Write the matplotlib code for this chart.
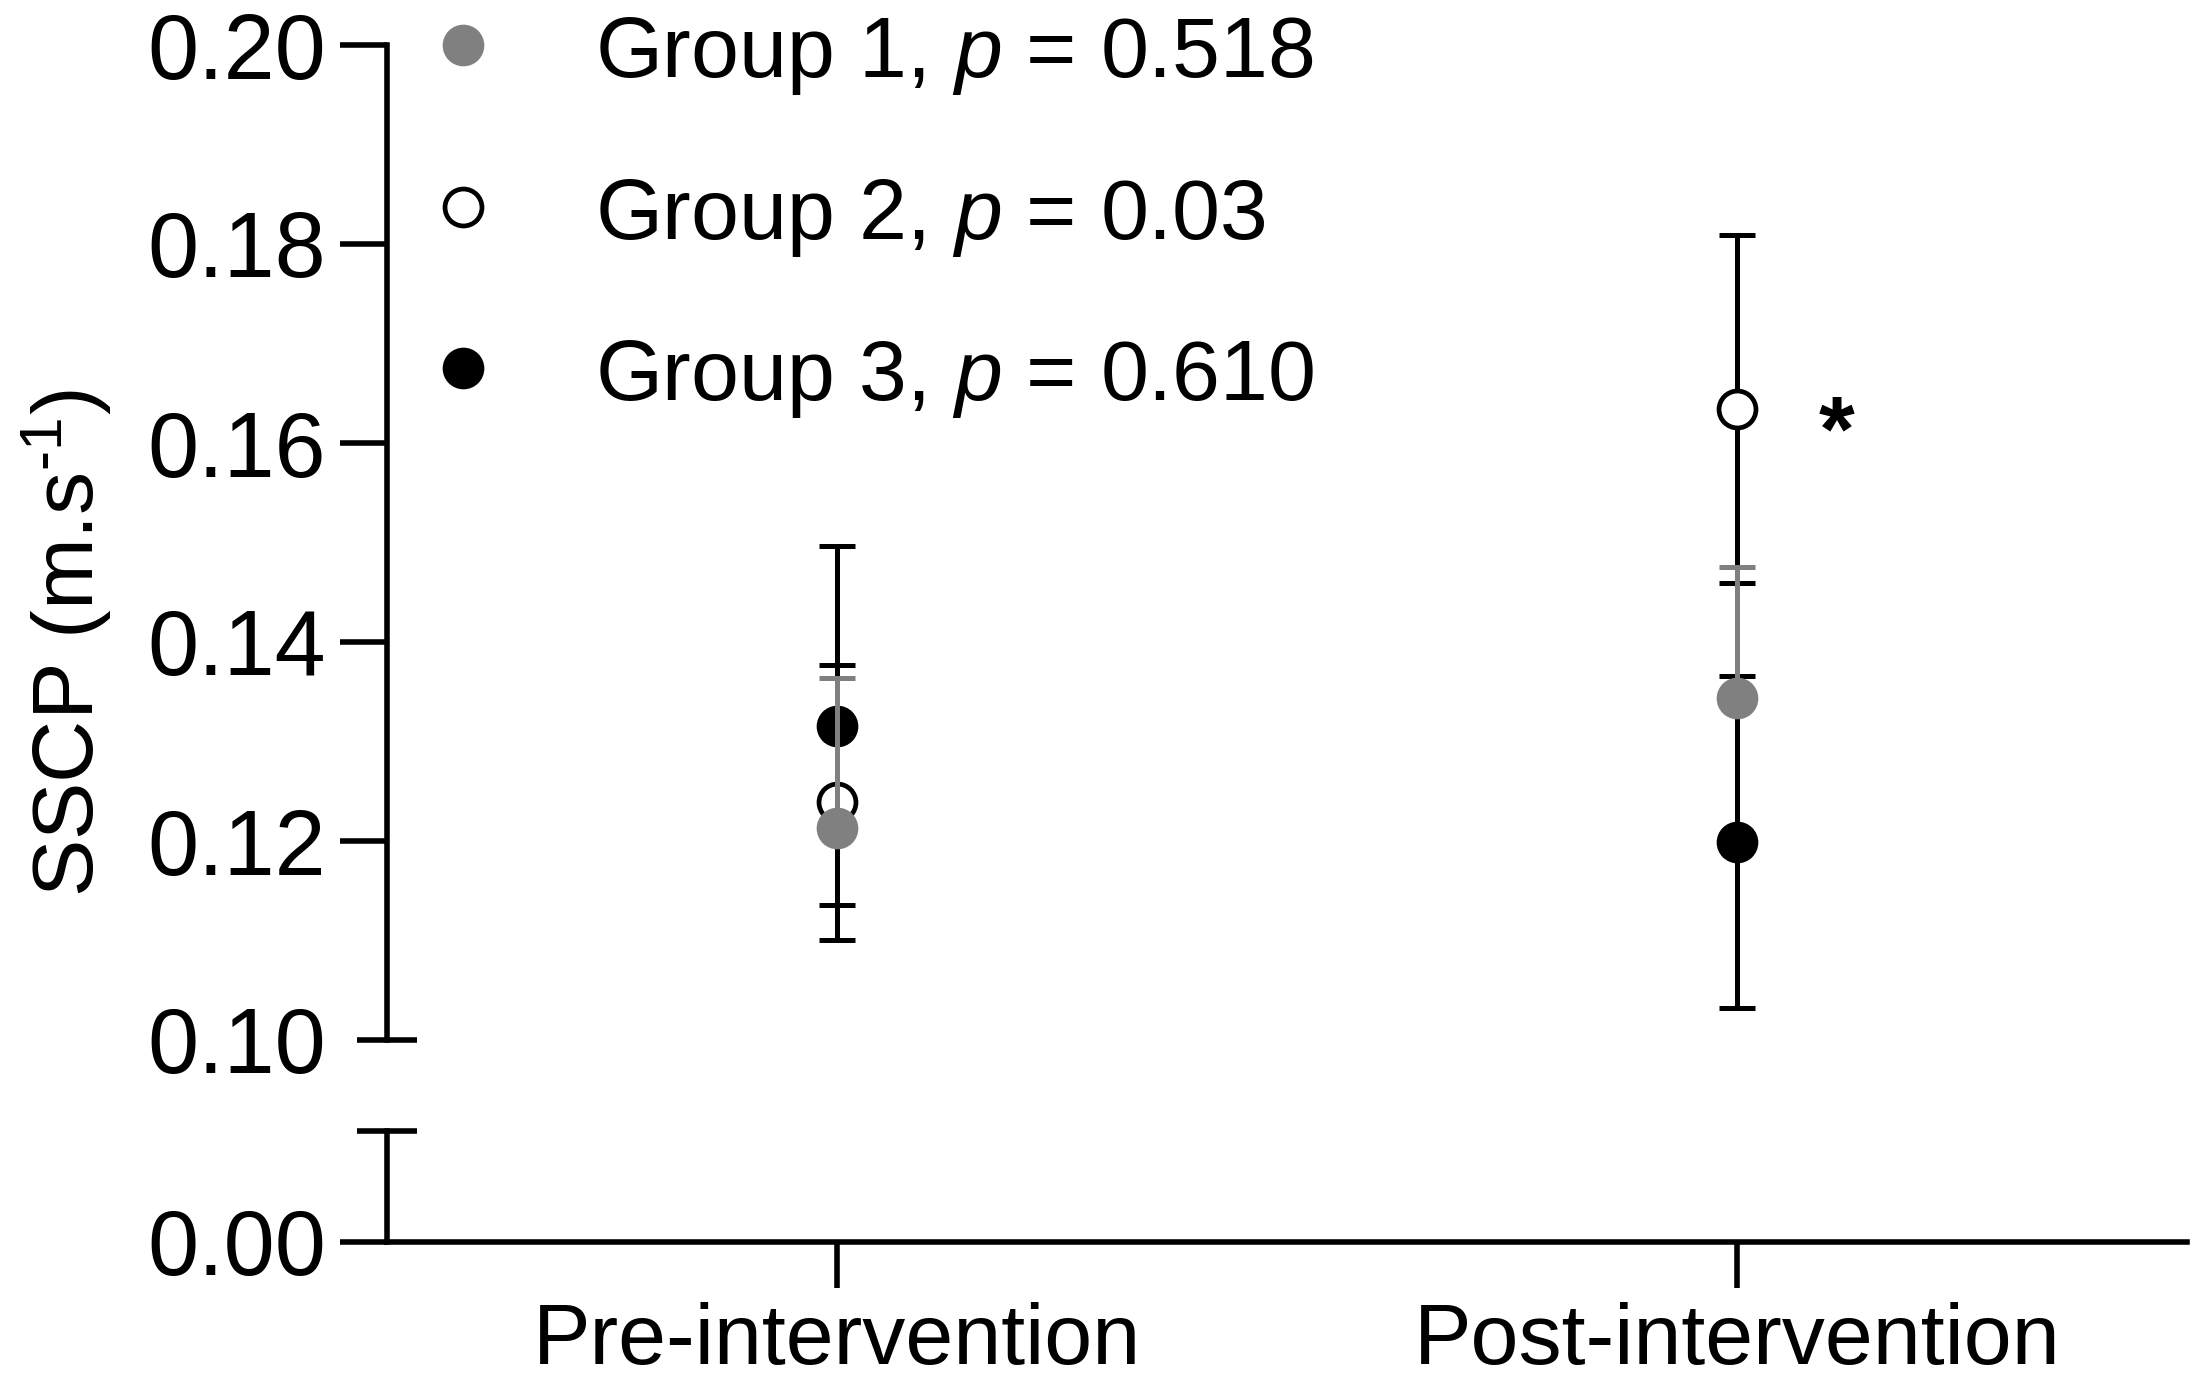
#!/usr/bin/env python3
"""SSCP pre/post intervention, three groups, mean +/- SD with a broken y axis."""

import matplotlib
matplotlib.use("Agg")
import matplotlib.pyplot as plt

plt.rcParams["font.family"] = ["Liberation Sans", "DejaVu Sans"]
plt.rcParams["mathtext.fontset"] = "custom"
plt.rcParams["mathtext.rm"] = "Liberation Sans"
plt.rcParams["mathtext.it"] = "Liberation Sans:italic"

# data
timepoints = ["Pre-intervention", "Post-intervention"]
group_labels = [r"Group 1, $p$ = 0.518", r"Group 2, $p$ = 0.03", r"Group 3, $p$ = 0.610"]
g1_mean = [0.1213, 0.1344]
g1_err_up = [0.0151, 0.0131]
g1_err_down = [0.0, 0.0]
g2_mean = [0.1239, 0.1634]
g2_sd = [0.0138, 0.0175]
g3_mean = [0.1316, 0.1199]
g3_sd = [0.0180, 0.0167]
yticks_top = [0.10, 0.12, 0.14, 0.16, 0.18, 0.20]
sig_mark = "*"

GREY = "#808080"
FS_TICK = 33
FS = 31
LW = 2.0

W, H = 2196, 1384
fig = plt.figure(figsize=(W / 200, H / 200), dpi=200)
left, right = 387 / W, 2187 / W
ax = fig.add_axes([left, 1 - 1040 / H, right - left, (1040 - 45) / H])
axb = fig.add_axes([left, 1 - 1242 / H, right - left, (1242 - 1131) / H])

x = list(range(len(timepoints)))
eb = dict(fmt="none", elinewidth=1.8, capsize=6.5, capthick=1.8)

# bars first, then markers, grey group on top
ax.errorbar(x, g3_mean, yerr=g3_sd, ecolor="black", zorder=2, **eb)
ax.errorbar(x, g2_mean, yerr=g2_sd, ecolor="black", zorder=2.1, **eb)
ax.plot(x, g3_mean, "o", ls="none", color="black", ms=15, mew=0, zorder=3)
ax.plot(x, g2_mean, "o", ls="none", mfc="white", mec="black", ms=13.3, mew=1.7, zorder=3.1)
ax.errorbar(x, g1_mean, yerr=[g1_err_down, g1_err_up], ecolor=GREY, zorder=4, **eb)
ax.plot(x, g1_mean, "o", ls="none", color=GREY, ms=15, mew=0, zorder=5)

ax.text(1.111, 0.1582, sig_mark, fontsize=FS_TICK, fontweight="bold", ha="center", va="baseline")

for a in (ax, axb):
    a.set_xlim(-0.5, 1.5)
    for s in ("top", "right"):
        a.spines[s].set_visible(False)
    a.spines["left"].set_linewidth(LW)
    a.tick_params(axis="y", length=16.9, width=LW, pad=5, labelsize=FS_TICK)
    a.patch.set_alpha(0)

ax.spines["bottom"].set_visible(False)
ax.set_ylim(0.10, 0.20)
ax.set_yticks(yticks_top)
ax.set_yticklabels([f"{v:.2f}" for v in yticks_top])
ax.yaxis.get_major_ticks()[0].tick1line.set_visible(False)
ax.tick_params(axis="x", bottom=False, labelbottom=False)

axb.set_ylim(0, 0.0111)
axb.set_yticks([0.0])
axb.set_yticklabels(["0.00"])
axb.spines["bottom"].set_linewidth(LW)
axb.set_xticks(x)
axb.set_xticklabels(timepoints)
axb.tick_params(axis="x", length=16.6, width=LW, pad=5, labelsize=FS)

# break caps on the y axis
cap = 30 / 1800
ax.plot([-cap, cap], [0, 0], transform=ax.transAxes, color="black", lw=LW, clip_on=False,
        solid_capstyle="butt")
axb.plot([-cap, cap], [1, 1], transform=axb.transAxes, color="black", lw=LW, clip_on=False,
         solid_capstyle="butt")

# legend drawn by hand
mx = (463 - 387) / 1800
tx = (595 - 387) / 1800
rows = [1.0, 1 - 162 / 995, 1 - 323 / 995]
styles = [dict(color=GREY, ms=15, mew=0),
          dict(mfc="white", mec="black", ms=13.3, mew=1.7),
          dict(color="black", ms=15, mew=0)]
for yr, lab, st in zip(rows, group_labels, styles):
    ax.plot([mx], [yr], "o", transform=ax.transAxes, clip_on=False, **st)
    ax.text(tx, yr - 32 / 995, lab, transform=ax.transAxes, fontsize=FS, va="baseline", ha="left")

fig.text(67 / W, 1 - 643 / H, r"SSCP (m.s$^{\text{-}1}$)", rotation=90, fontsize=FS,
         ha="center", va="center")

fig.savefig("out.png", dpi=200, facecolor="white")
